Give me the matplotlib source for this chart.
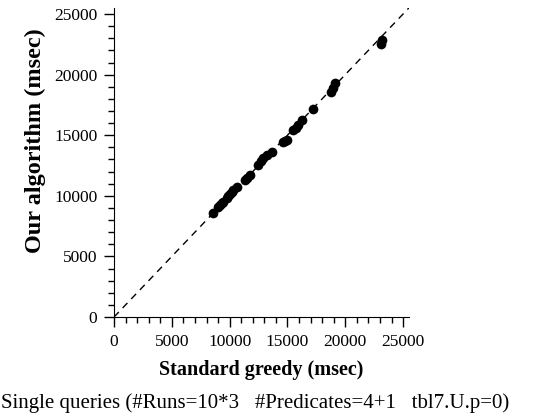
import matplotlib
matplotlib.use('Agg')
import matplotlib.pyplot as plt
from matplotlib.ticker import MultipleLocator

# Standard greedy vs our algorithm run times (msec)
greedy_ms = [8520, 9030, 9150, 9320, 9450, 9750, 9900, 10040, 10200, 10330,
             10670, 11330, 11500, 11770, 12490, 12700, 12920, 13200, 13640, 14640,
             14800, 14930, 15500, 15700, 15940, 16230, 17230, 18810, 18960, 19100,
             23130, 23190]
ours_ms = [8590, 9080, 9220, 9420, 9500, 9800, 9950, 10190, 10300, 10460,
           10740, 11290, 11450, 11700, 12530, 12900, 13080, 13350, 13630, 14450,
           14550, 14590, 15420, 15600, 15830, 16240, 17125, 18590, 18860, 19270,
           22520, 22850]
diag = [0, 25500]

plt.rcParams['font.family'] = ['Liberation Serif', 'DejaVu Serif']

fig = plt.figure(figsize=(5.46, 4.19), dpi=100)
ax = fig.add_axes([0.2088, 0.2434, 0.54, 0.7376])

ax.plot(diag, diag, color='black', linestyle=(0, (5, 4)), linewidth=1.0)
ax.plot(greedy_ms, ours_ms, 'o', color='black', markersize=7, markeredgewidth=0)

ax.set_xlim(0, 25500)
ax.set_ylim(0, 25500)
ax.xaxis.set_major_locator(MultipleLocator(5000))
ax.yaxis.set_major_locator(MultipleLocator(5000))
ax.xaxis.set_minor_locator(MultipleLocator(1000))
ax.yaxis.set_minor_locator(MultipleLocator(1000))
ax.tick_params(which='major', direction='out', length=7, width=1, labelsize=12.5, pad=5)
ax.tick_params(which='minor', direction='out', length=4, width=1)
ax.spines['top'].set_visible(False)
ax.spines['right'].set_visible(False)

ax.set_xlabel('Standard greedy (msec)', fontsize=14.5, fontweight='bold')
ax.xaxis.set_label_coords(0.5, -0.1715)
ax.xaxis.label.set_va('center')
ax.set_ylabel('Our algorithm (msec)', fontsize=17.5, fontweight='bold')
ax.yaxis.set_label_coords(-0.268, 0.57)
ax.yaxis.label.set_va('center')

fig.text(0.467, 0.038, 'Single queries (#Runs=10*3   #Predicates=4+1   tbl7.U.p=0)',
         ha='center', va='center', fontsize=15)

fig.savefig('out.png', dpi=100, facecolor='white')
